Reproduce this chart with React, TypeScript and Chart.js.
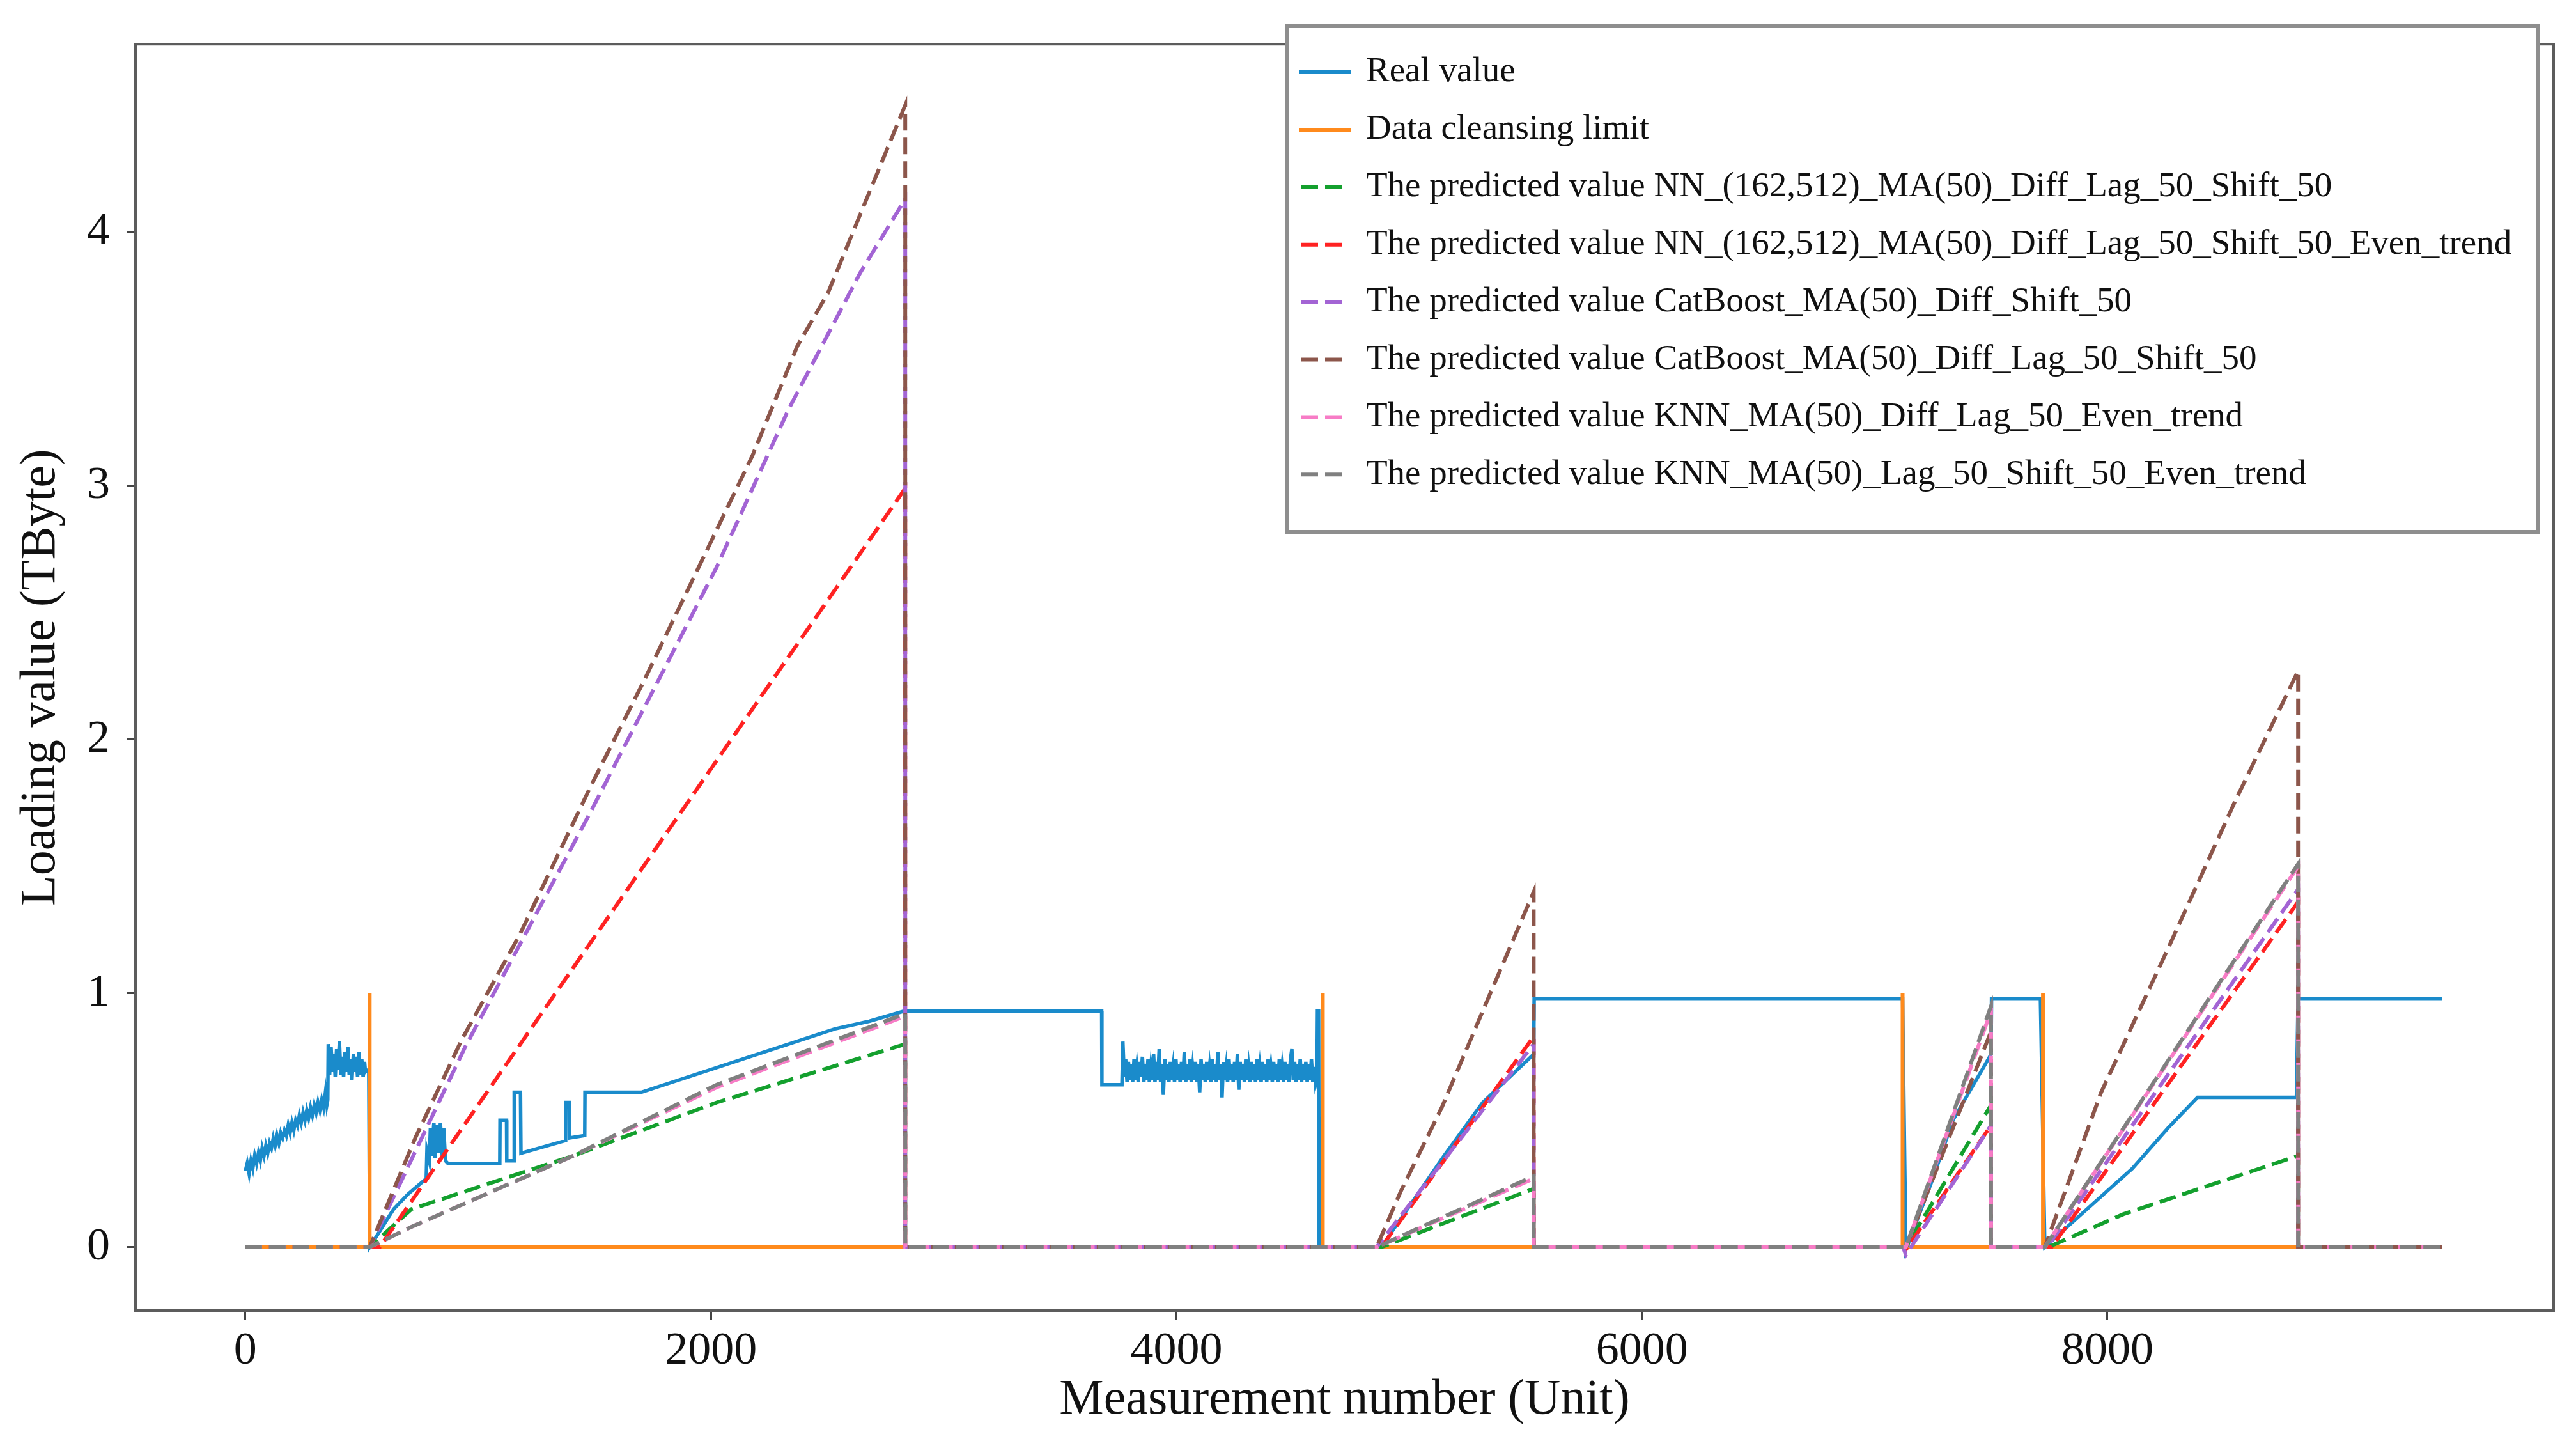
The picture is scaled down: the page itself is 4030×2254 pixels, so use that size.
import { useEffect, useRef } from "react";
import { Chart, registerables } from "chart.js";

Chart.register(...registerables);

const W = 4030;
const H = 2254;

// axis limits and tick labels
const X_MIN = -472;
const X_MAX = 9917;
const Y_MIN = -0.25;
const Y_MAX = 4.74;
const X_TICKS = [0, 2000, 4000, 6000, 8000];
const Y_TICKS = [0, 1, 2, 3, 4];

const LABELS = [
  "Real value",
  "Data cleansing limit",
  "The predicted value NN_(162,512)_MA(50)_Diff_Lag_50_Shift_50",
  "The predicted value NN_(162,512)_MA(50)_Diff_Lag_50_Shift_50_Even_trend",
  "The predicted value CatBoost_MA(50)_Diff_Shift_50",
  "The predicted value CatBoost_MA(50)_Diff_Lag_50_Shift_50",
  "The predicted value KNN_MA(50)_Diff_Lag_50_Even_trend",
  "The predicted value KNN_MA(50)_Lag_50_Shift_50_Even_trend",
];

// [measurement number, TByte]
const REAL_VALUE: [number, number][] = [
  [0, 0.30], [8, 0.33], [16, 0.29], [24, 0.34], [32, 0.31], [40, 0.36], [48, 0.33], [56, 0.37],
  [64, 0.34], [72, 0.39], [80, 0.36], [88, 0.40], [96, 0.37], [104, 0.41], [112, 0.39], [120, 0.43],
  [128, 0.40], [136, 0.44], [144, 0.41], [152, 0.45], [160, 0.43], [168, 0.46], [176, 0.44], [184, 0.48],
  [192, 0.45], [200, 0.49], [208, 0.46], [216, 0.50], [224, 0.48], [232, 0.52], [240, 0.49], [248, 0.53],
  [256, 0.50], [264, 0.54], [272, 0.51], [280, 0.55], [288, 0.52], [296, 0.56], [304, 0.53], [312, 0.57],
  [320, 0.54], [328, 0.58], [336, 0.55], [344, 0.61], [350, 0.56], [354, 0.58],
  [356, 0.80], [362, 0.68], [368, 0.79], [374, 0.69], [380, 0.76], [386, 0.67], [392, 0.78], [398, 0.70],
  [404, 0.81], [410, 0.68], [416, 0.75], [422, 0.67], [428, 0.77], [434, 0.69], [440, 0.79], [446, 0.68],
  [452, 0.74], [458, 0.66], [464, 0.76], [470, 0.69], [476, 0.75], [482, 0.67], [488, 0.77], [494, 0.68],
  [500, 0.74], [506, 0.67], [512, 0.73], [516, 0.69], [530, 0.70], [534, 0],
  [637, 0.15], [700, 0.21], [777, 0.27], [780, 0.38], [790, 0.34], [795, 0.47], [800, 0.36], [810, 0.49],
  [815, 0.35], [822, 0.48], [830, 0.37], [838, 0.49], [846, 0.36], [852, 0.47], [860, 0.34], [870, 0.33],
  [1093, 0.33], [1094, 0.50], [1122, 0.50], [1123, 0.34], [1154, 0.34], [1155, 0.61], [1182, 0.61],
  [1184, 0.37], [1376, 0.42], [1377, 0.57], [1392, 0.57], [1393, 0.43], [1458, 0.44], [1459, 0.61],
  [1701, 0.61], [2533, 0.86], [2680, 0.89], [2830, 0.93], [3679, 0.93], [3680, 0.64], [3766, 0.64],
  [3770, 0.81], [3776, 0.67], [3782, 0.74], [3788, 0.65], [3794, 0.73], [3800, 0.66], [3806, 0.72], [3812, 0.65],
  [3818, 0.74], [3824, 0.66], [3830, 0.71], [3836, 0.65], [3842, 0.73], [3848, 0.67], [3854, 0.75], [3860, 0.65],
  [3866, 0.72], [3872, 0.66], [3878, 0.74], [3884, 0.65], [3890, 0.71], [3896, 0.66], [3902, 0.76], [3908, 0.65],
  [3914, 0.73], [3920, 0.66], [3926, 0.78], [3932, 0.65], [3938, 0.72], [3944, 0.60], [3950, 0.74], [3956, 0.66],
  [3962, 0.72], [3968, 0.65], [3974, 0.73], [3980, 0.66], [3986, 0.71], [3992, 0.65], [3998, 0.74], [4004, 0.66],
  [4010, 0.72], [4016, 0.65], [4022, 0.73], [4028, 0.66], [4034, 0.77], [4040, 0.65], [4046, 0.72], [4052, 0.66],
  [4058, 0.74], [4064, 0.65], [4070, 0.71], [4076, 0.66], [4082, 0.73], [4088, 0.65], [4094, 0.72], [4100, 0.61],
  [4106, 0.74], [4112, 0.66], [4118, 0.72], [4124, 0.65], [4130, 0.73], [4136, 0.66], [4142, 0.71], [4148, 0.65],
  [4154, 0.74], [4160, 0.66], [4166, 0.72], [4172, 0.65], [4178, 0.77], [4184, 0.66], [4190, 0.72], [4196, 0.59],
  [4202, 0.73], [4208, 0.66], [4214, 0.71], [4220, 0.65], [4226, 0.74], [4232, 0.66], [4238, 0.72], [4244, 0.65],
  [4250, 0.73], [4256, 0.66], [4262, 0.76], [4268, 0.62], [4274, 0.73], [4280, 0.66], [4286, 0.72], [4292, 0.65],
  [4298, 0.74], [4304, 0.66], [4310, 0.71], [4316, 0.65], [4322, 0.73], [4328, 0.66], [4334, 0.72], [4340, 0.65],
  [4346, 0.74], [4352, 0.66], [4358, 0.71], [4364, 0.65], [4370, 0.73], [4376, 0.66], [4382, 0.72], [4388, 0.65],
  [4394, 0.74], [4400, 0.66], [4406, 0.71], [4412, 0.65], [4418, 0.73], [4424, 0.66], [4430, 0.72], [4436, 0.65],
  [4442, 0.74], [4448, 0.66], [4454, 0.71], [4460, 0.65], [4466, 0.73], [4472, 0.66], [4478, 0.72], [4484, 0.65],
  [4490, 0.74], [4496, 0.78], [4502, 0.66], [4508, 0.73], [4514, 0.65], [4520, 0.72], [4526, 0.66], [4532, 0.74],
  [4538, 0.65], [4544, 0.72], [4550, 0.66], [4556, 0.73], [4562, 0.65], [4568, 0.72], [4574, 0.66], [4580, 0.74],
  [4586, 0.65], [4592, 0.71], [4598, 0.64], [4604, 0.66], [4606, 0.93], [4611, 0.93], [4613, 0],
  [4880, 0], [5000, 0.16], [5150, 0.36], [5316, 0.57], [5535, 0.76], [5537, 0.98], [7120, 0.98],
  [7134, -0.01], [7250, 0.27], [7336, 0.50], [7500, 0.76], [7502, 0.98], [7712, 0.98], [7731, 0],
  [7900, 0.14], [8107, 0.31], [8261, 0.47], [8387, 0.59], [8812, 0.59], [8819, 0.98], [9437, 0.98],
];

const CLEANSING_LIMIT: [number, number][] = [
  [0, 0], [534, 0], [534, 1], [534, 0], [4629, 0], [4629, 1], [4629, 0],
  [7120, 0], [7120, 1], [7120, 0], [7723, 0], [7723, 1], [7723, 0], [9437, 0],
];

const NN: [number, number][] = [
  [0, 0], [534, 0], [714, 0.15], [1409, 0.36], [2025, 0.57], [2835, 0.80], [2835, 0],
  [4880, 0], [5535, 0.23], [5535, 0], [7134, 0], [7500, 0.56], [7500, 0],
  [7745, 0], [8069, 0.13], [8819, 0.36], [8819, 0], [9437, 0],
];

const NN_EVEN: [number, number][] = [
  [0, 0], [577, 0], [2835, 2.99], [2835, 0], [4880, 0], [5535, 0.83], [5535, 0],
  [7124, 0], [7134, -0.01], [7500, 0.48], [7500, 0], [7760, 0], [8819, 1.36], [8819, 0], [9437, 0],
];

const CATBOOST_SHIFT: [number, number][] = [
  [0, 0], [534, 0], [945, 0.79], [1486, 1.72], [2025, 2.68], [2333, 3.30], [2642, 3.84], [2835, 4.13],
  [2835, 0], [4860, 0], [5535, 0.80], [5535, 0], [7122, 0], [7134, -0.03], [7500, 0.48], [7500, 0],
  [7740, 0], [8819, 1.41], [8819, 0], [9437, 0],
];

const CATBOOST_LAG: [number, number][] = [
  [0, 0], [534, 0], [730, 0.43], [931, 0.82], [1178, 1.23], [1486, 1.82], [1717, 2.24], [1948, 2.68],
  [2179, 3.12], [2371, 3.55], [2503, 3.76], [2642, 4.07], [2835, 4.50], [2835, 0],
  [4860, 0], [4964, 0.22], [5140, 0.55], [5316, 0.93], [5535, 1.40], [5535, 0],
  [7134, 0], [7500, 0.85], [7500, 0], [7731, 0], [7973, 0.61], [8262, 1.18], [8550, 1.76], [8819, 2.27],
  [8819, 0], [9437, 0],
];

const KNN_DIFF: [number, number][] = [
  [0, 0], [534, 0], [714, 0.08], [1409, 0.36], [2025, 0.63], [2835, 0.91], [2835, 0],
  [4860, 0], [5535, 0.27], [5535, 0], [7134, 0], [7500, 0.93], [7500, 0],
  [7731, 0], [8819, 1.50], [8819, 0], [9437, 0],
];

const KNN_LAG: [number, number][] = [
  [0, 0], [534, 0], [714, 0.08], [1409, 0.36], [2025, 0.64], [2835, 0.92], [2835, 0],
  [4860, 0], [5535, 0.28], [5535, 0], [7134, 0], [7500, 0.95], [7500, 0],
  [7731, 0], [8819, 1.51], [8819, 0], [9437, 0],
];

const SERIES = [REAL_VALUE, CLEANSING_LIMIT, NN, NN_EVEN, CATBOOST_SHIFT, CATBOOST_LAG, KNN_DIFF, KNN_LAG];
const COLORS = ["#1a8bcb", "#ff8a1c", "#14a02e", "#ff2222", "#a364d4", "#8c564b", "#f77cc6", "#808080"];
const DASH = [26, 11];

// legend placement (canvas px)
const LEG_LEFT = 2013;
const LEG_TOP = 41;
const LEG_RIGHT = 3970;
const LEG_BOTTOM = 832;
const LEG_ROW0 = 113;
const LEG_ROW_STEP = 89.9;

const FONT = "'Liberation Serif', 'Times New Roman', serif";

const framePlugin = {
  id: "frame",
  afterDatasetsDraw(chart: any) {
    const { ctx, chartArea: a } = chart;
    ctx.save();
    ctx.lineWidth = 4;
    ctx.strokeStyle = "#5c5c5c";
    ctx.strokeRect(a.left, a.top, a.right - a.left, a.bottom - a.top);
    ctx.restore();
  },
};

const legendPlugin = {
  id: "boxLegend",
  afterDraw(chart: any) {
    const { ctx } = chart;
    ctx.save();
    ctx.fillStyle = "#ffffff";
    ctx.fillRect(LEG_LEFT, LEG_TOP, LEG_RIGHT - LEG_LEFT, LEG_BOTTOM - LEG_TOP);
    ctx.lineWidth = 6;
    ctx.strokeStyle = "#8e8e8e";
    ctx.strokeRect(LEG_LEFT, LEG_TOP, LEG_RIGHT - LEG_LEFT, LEG_BOTTOM - LEG_TOP);
    ctx.font = `55px ${FONT}`;
    ctx.textBaseline = "middle";
    ctx.textAlign = "left";
    chart.data.datasets.forEach((ds: any, i: number) => {
      const y = LEG_ROW0 + i * LEG_ROW_STEP;
      const dashed = ds.borderDash && ds.borderDash.length;
      ctx.setLineDash(dashed ? ds.borderDash : []);
      ctx.lineWidth = 6;
      ctx.strokeStyle = ds.borderColor;
      ctx.beginPath();
      ctx.moveTo(dashed ? 2036 : 2032, y);
      ctx.lewidth = 6;
      ctx.lineTo(dashed ? 2109 : 2113, y);
      ctx.stroke();
      ctx.setLineDash([]);
      ctx.fillStyle = "#111111";
      ctx.fillText(ds.label, 2137, y);
    });
    ctx.restore();
  },
};

export default function App() {
  const canvasRef = useRef<HTMLCanvasElement>(null);
  const chartRef = useRef<Chart | null>(null);

  useEffect(() => {
    if (!canvasRef.current) return;
    if (chartRef.current) chartRef.current.destroy();

    Chart.defaults.font.family = FONT;
    Chart.defaults.color = "#111111";

    chartRef.current = new Chart(canvasRef.current, {
      type: "line",
      data: {
        datasets: SERIES.map((pts, i) => ({
          label: LABELS[i],
          data: pts.map(([x, y]) => ({ x, y })),
          borderColor: COLORS[i],
          backgroundColor: COLORS[i],
          borderWidth: i === 0 ? 5.5 : 6,
          borderDash: i < 2 ? [] : DASH,
          pointRadius: 0,
          pointHoverRadius: 0,
          tension: 0,
          fill: false,
          order: SERIES.length - 1 - i,
        })),
      },
      options: {
        animation: false,
        responsive: false,
        events: [],
        layout: { padding: { left: 0, top: 26, right: 35, bottom: 0 } },
        plugins: {
          legend: { display: false },
          tooltip: { enabled: false },
        },
        scales: {
          x: {
            type: "linear",
            position: "bottom",
            min: X_MIN,
            max: X_MAX,
            afterBuildTicks: (scale: any) => { scale.ticks = X_TICKS.map(v => ({ value: v })); },
            afterFit: (scale: any) => { scale.height = H - 2050; },
            grid: { drawOnChartArea: false, drawTicks: true, tickLength: 15, tickWidth: 3, tickColor: "#444" },
            border: { display: false },
            ticks: { font: { size: 72 }, padding: 6, maxRotation: 0, callback: (v: any) => String(v) },
            title: { display: true, text: "Measurement number (Unit)", font: { size: 78 }, padding: { top: 0, bottom: 17 } },
          },
          y: {
            type: "linear",
            min: Y_MIN,
            max: Y_MAX,
            afterBuildTicks: (scale: any) => { scale.ticks = Y_TICKS.map(v => ({ value: v })); },
            afterFit: (scale: any) => { scale.width = 212; },
            grid: { drawOnChartArea: false, drawTicks: true, tickLength: 14, tickWidth: 3, tickColor: "#444" },
            border: { display: false },
            ticks: { font: { size: 72 }, padding: 26, callback: (v: any) => String(v) },
            title: { display: true, text: "Loading value (TByte)", font: { size: 78 }, padding: { top: 18, bottom: 0 } },
          },
        },
      },
      plugins: [framePlugin, legendPlugin],
    });

    return () => { chartRef.current?.destroy(); };
  }, []);

  return (
    <div style={{ position: "absolute", left: 0, top: 0, width: W, height: H, background: "#fff" }}>
      <canvas ref={canvasRef} width={W} height={H} style={{ width: W, height: H, display: "block" }} />
    </div>
  );
}
